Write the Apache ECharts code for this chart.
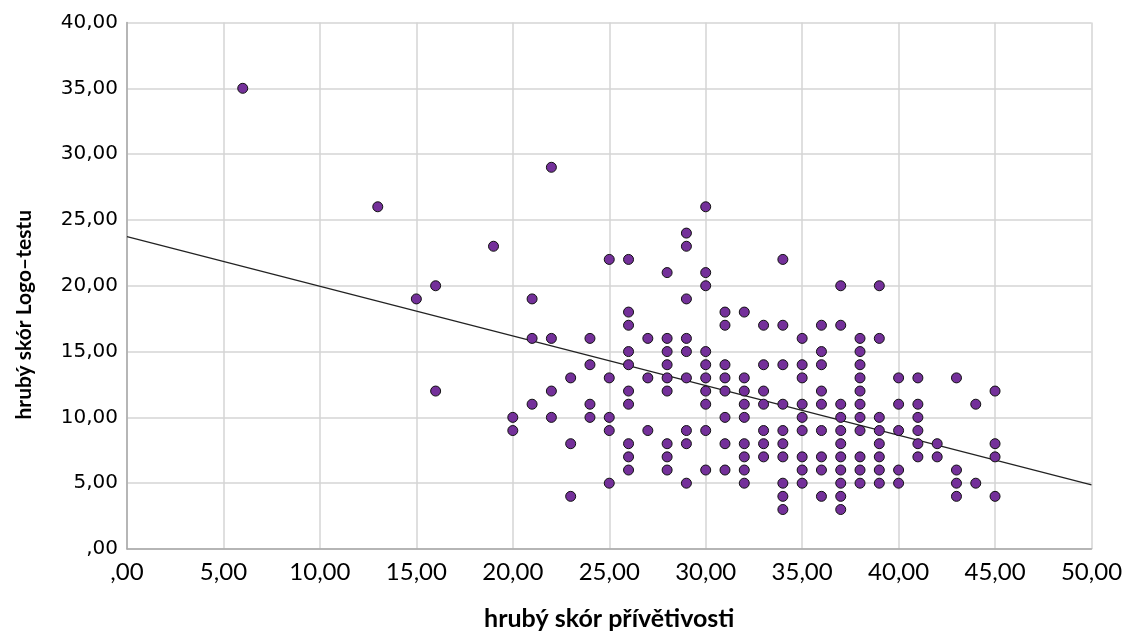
<!DOCTYPE html>
<html>
<head>
<meta charset="utf-8">
<script src="https://cdn.jsdelivr.net/npm/echarts@6/dist/echarts.min.js"></script>
<style>
html,body{margin:0;padding:0;background:#fff;}
#chart{width:1133px;height:633px;}
</style>
</head>
<body>
<div id="chart"></div>
<script>
// x values (hrubý skór přívětivosti) and the y values observed at each x
const columnX = [6, 13, 15, 16, 19, 20, 21, 22, 23, 24, 25, 26, 27, 28, 29, 30, 31, 32, 33, 34, 35, 36, 37, 38, 39, 40, 41, 42, 43, 44, 45];
const columnY = [
  [35],
  [26],
  [19],
  [20, 12],
  [23],
  [10, 9],
  [19, 16, 11],
  [29, 16, 12, 10],
  [13, 8, 4],
  [16, 14, 11, 10],
  [22, 13, 10, 9, 5],
  [22, 18, 17, 15, 14, 12, 11, 8, 7, 6],
  [16, 13, 9],
  [21, 16, 15, 14, 13, 12, 8, 7, 6],
  [24, 23, 19, 16, 15, 13, 9, 8, 5],
  [26, 21, 20, 15, 14, 13, 12, 11, 9, 6],
  [18, 17, 14, 13, 12, 10, 8, 6],
  [18, 13, 12, 11, 10, 8, 7, 6, 5],
  [17, 14, 12, 11, 9, 8, 7],
  [22, 17, 14, 11, 9, 8, 7, 5, 4, 3],
  [16, 14, 13, 11, 10, 9, 7, 6, 5],
  [17, 15, 14, 12, 11, 9, 7, 6, 4],
  [20, 17, 11, 10, 9, 8, 7, 6, 5, 4, 3],
  [16, 15, 14, 13, 12, 11, 10, 9, 7, 6, 5],
  [20, 16, 10, 9, 8, 7, 6, 5],
  [13, 11, 9, 6, 5],
  [13, 11, 10, 9, 8, 7],
  [8, 7],
  [13, 6, 5, 4],
  [11, 5],
  [12, 8, 7, 4]
];
// fit line endpoints
const fitLineX = [0, 50];
const fitLineY = [23.73, 4.87];
// axis ticks
const xTicks = [0, 5, 10, 15, 20, 25, 30, 35, 40, 45, 50];
const yTicks = [0, 5, 10, 15, 20, 25, 30, 35, 40];
const xTitle = 'hrubý skór přívětivosti';
const yTitle = 'hrubý skór Logo–testu';

const points = [];
columnX.forEach((x, i) => columnY[i].forEach(y => points.push([x, y])));
const fitLine = fitLineX.map((x, i) => [x, fitLineY[i]]);

function fmt(v) {
  if (v === 0) return ',00';
  return v.toFixed(2).replace('.', ',');
}

const chart = echarts.init(document.getElementById('chart'), null, {renderer: 'canvas'});
chart.setOption({
  animation: false,
  backgroundColor: '#ffffff',
  grid: {left: 127, right: 41.5, top: 22.5, bottom: 84, containLabel: false, outerBoundsMode: 'none'},
  xAxis: {
    type: 'value',
    min: xTicks[0], max: xTicks[xTicks.length - 1], interval: 5,
    name: xTitle,
    nameLocation: 'middle',
    nameGap: 57,
    nameTextStyle: {fontFamily: 'Lato', fontWeight: 'bold', fontSize: 25, color: '#000'},
    axisLine: {show: true, lineStyle: {color: '#a8a8a8', width: 1.5}},
    axisTick: {show: false},
    axisLabel: {formatter: fmt, fontFamily: 'Lato', fontSize: 24, color: '#000', margin: 11},
    splitLine: {show: true, lineStyle: {color: '#d4d4d4', width: 1.5}}
  },
  yAxis: {
    type: 'value',
    min: yTicks[0], max: yTicks[yTicks.length - 1], interval: 5,
    name: yTitle,
    nameLocation: 'middle',
    nameGap: 92,
    nameRotate: 90,
    nameTextStyle: {fontFamily: 'Lato', fontWeight: 'bold', fontSize: 21, color: '#000', padding: [0, 58, 0, 0]},
    axisLine: {show: true, lineStyle: {color: '#a8a8a8', width: 1.5}},
    axisTick: {show: false},
    axisLabel: {formatter: fmt, fontFamily: 'DejaVu Sans', fontSize: 20, color: '#000', margin: 9},
    splitLine: {show: true, lineStyle: {color: '#d4d4d4', width: 1.5}}
  },
  series: [
    {
      type: 'line',
      data: fitLine,
      symbol: 'none',
      lineStyle: {color: '#222', width: 1.2},
      silent: true,
      z: 2
    },
    {
      type: 'scatter',
      data: points,
      symbol: 'circle',
      symbolSize: 10,
      itemStyle: {color: '#74309a', borderColor: '#111', borderWidth: 1, opacity: 1},
      z: 3
    }
  ]
});
</script>
</body>
</html>
